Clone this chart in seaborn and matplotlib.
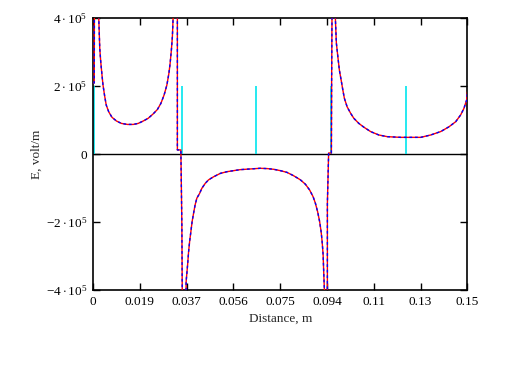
import matplotlib
matplotlib.use('Agg')
import pandas as pd
import matplotlib.pyplot as plt
import seaborn as sns

# ── Data ────────────────────────────────────────────────
distance = [0.0001, 0.0005, 0.0006, 0.0021, 0.0023, 0.0027, 0.0031, 0.0036,
            0.0040, 0.0047, 0.0053, 0.0063, 0.0076, 0.0094, 0.0114, 0.0138,
            0.0161, 0.0181, 0.0201, 0.0221, 0.0241, 0.0258, 0.0272, 0.0285,
            0.0296, 0.0304, 0.0309, 0.0314, 0.0318, 0.0321, 0.0322, 0.0338,
            0.0338, 0.0352, 0.0356, 0.0359, 0.0373, 0.0373, 0.0379, 0.0383,
            0.0387, 0.0392, 0.0397, 0.0403, 0.0409, 0.0416, 0.0427, 0.0436,
            0.0450, 0.0463, 0.0483, 0.0510, 0.0537, 0.0563, 0.0590, 0.0630,
            0.0670, 0.0700, 0.0724, 0.0751, 0.0777, 0.0804, 0.0831, 0.0851,
            0.0868, 0.0882, 0.0891, 0.0900, 0.0908, 0.0914, 0.0918, 0.0922,
            0.0924, 0.0927, 0.0928, 0.0939, 0.0939, 0.0944, 0.0955, 0.0956,
            0.0959, 0.0970, 0.0971, 0.0975, 0.0981, 0.0987, 0.0994, 0.1001,
            0.1007, 0.1018, 0.1032, 0.1045, 0.1065, 0.1085, 0.1112, 0.1145,
            0.1179, 0.1232, 0.1313, 0.1353, 0.1393, 0.1426, 0.1453, 0.1473,
            0.1486, 0.1497, 0.1500]
field = [2.09e5, 2.09e5, 6e5, 6e5, 4.02e5, 3.11e5, 2.71e5, 2.32e5,
         2.03e5, 1.69e5, 1.44e5, 1.24e5, 1.08e5, 9.7e4, 9.0e4, 8.7e4,
         8.7e4, 9.0e4, 9.7e4, 1.05e5, 1.18e5, 1.31e5, 1.49e5, 1.74e5,
         2.03e5, 2.37e5, 2.67e5, 3.06e5, 3.45e5, 4.02e5, 6e5, 6e5,
         1.2e4, 1.2e4, -2.09e5, -6e5, -6e5, -3.76e5, -3.26e5, -2.87e5,
         -2.58e5, -2.29e5, -1.99e5, -1.74e5, -1.50e5, -1.30e5, -1.16e5, -1.01e5,
         -8.6e4, -7.6e4, -6.7e4, -5.7e4, -5.2e4, -4.9e4, -4.6e4, -4.4e4,
         -4.2e4, -4.3e4, -4.5e4, -4.9e4, -5.4e4, -6.4e4, -7.6e4, -8.9e4,
         -1.06e5, -1.26e5, -1.45e5, -1.70e5, -1.99e5, -2.29e5, -2.58e5, -2.97e5,
         -3.41e5, -4.0e5, -6e5, -6e5, -1.45e5, 3e3, 3e3, 2.1e5,
         6e5, 6e5, 3.99e5, 3.26e5, 2.86e5, 2.47e5, 2.18e5, 1.88e5,
         1.64e5, 1.39e5, 1.20e5, 1.05e5, 9.0e4, 7.9e4, 6.6e4, 5.6e4,
         5.1e4, 4.9e4, 4.9e4, 5.6e4, 6.6e4, 8.0e4, 9.5e4, 1.15e5,
         1.34e5, 1.59e5, 1.83e5]

marker_x = [0.0005, 0.0355, 0.0655, 0.0955, 0.1255]
marker_height = 2e5

x_ticks = [0, 0.01875, 0.0375, 0.05625, 0.075, 0.09375, 0.1125, 0.13125, 0.15]
x_labels = ['0', '0.019', '0.037', '0.056', '0.075', '0.094', '0.11', '0.13', '0.15']
y_ticks = [-4e5, -2e5, 0, 2e5, 4e5]
y_labels = [r'$-4\cdot10^{5}$', r'$-2\cdot10^{5}$', '0',
            r'$2\cdot10^{5}$', r'$4\cdot10^{5}$']

# ── Style ───────────────────────────────────────────────
sns.set_style('white')
plt.rcParams['font.family'] = ['Liberation Serif', 'DejaVu Serif']
plt.rcParams['mathtext.fontset'] = 'custom'
plt.rcParams['mathtext.rm'] = 'Liberation Serif'
plt.rcParams['mathtext.it'] = 'Liberation Serif'

df = pd.DataFrame({'x': distance, 'E': field})

fig = plt.figure(figsize=(5.24, 3.68), dpi=100)
ax = fig.add_axes([0.1775, 0.212, 0.7145, 0.739])

ax.axhline(0, color='black', lw=1.0, zorder=1)
ax.vlines(marker_x, 0, marker_height, color='#00e5ee', lw=1.2, zorder=2)

sns.lineplot(data=df, x='x', y='E', sort=False, estimator=None,
             color='red', lw=1.0, ax=ax, zorder=3)
sns.lineplot(data=df, x='x', y='E', sort=False, estimator=None,
             color='blue', lw=1.0, ax=ax, zorder=4)
ax.lines[-1].set_dashes([2, 2])

ax.set_xlim(0, 0.15)
ax.set_ylim(-4e5, 4e5)
ax.set_xticks(x_ticks)
ax.set_xticklabels(x_labels, fontsize=9.5)
ax.set_yticks(y_ticks)
ax.set_yticklabels(y_labels, fontsize=9.5)
ax.tick_params(direction='in', length=5, width=1, top=True, right=True,
               bottom=True, left=True, colors='black', pad=4)

for s in ax.spines.values():
    s.set_color('black')
    s.set_linewidth(1.2)

ax.set_xlabel('Distance, m', fontsize=9.5, labelpad=4)
ax.set_ylabel('E, volt/m', fontsize=9.5, labelpad=2)

fig.savefig('out.png', dpi=100)
